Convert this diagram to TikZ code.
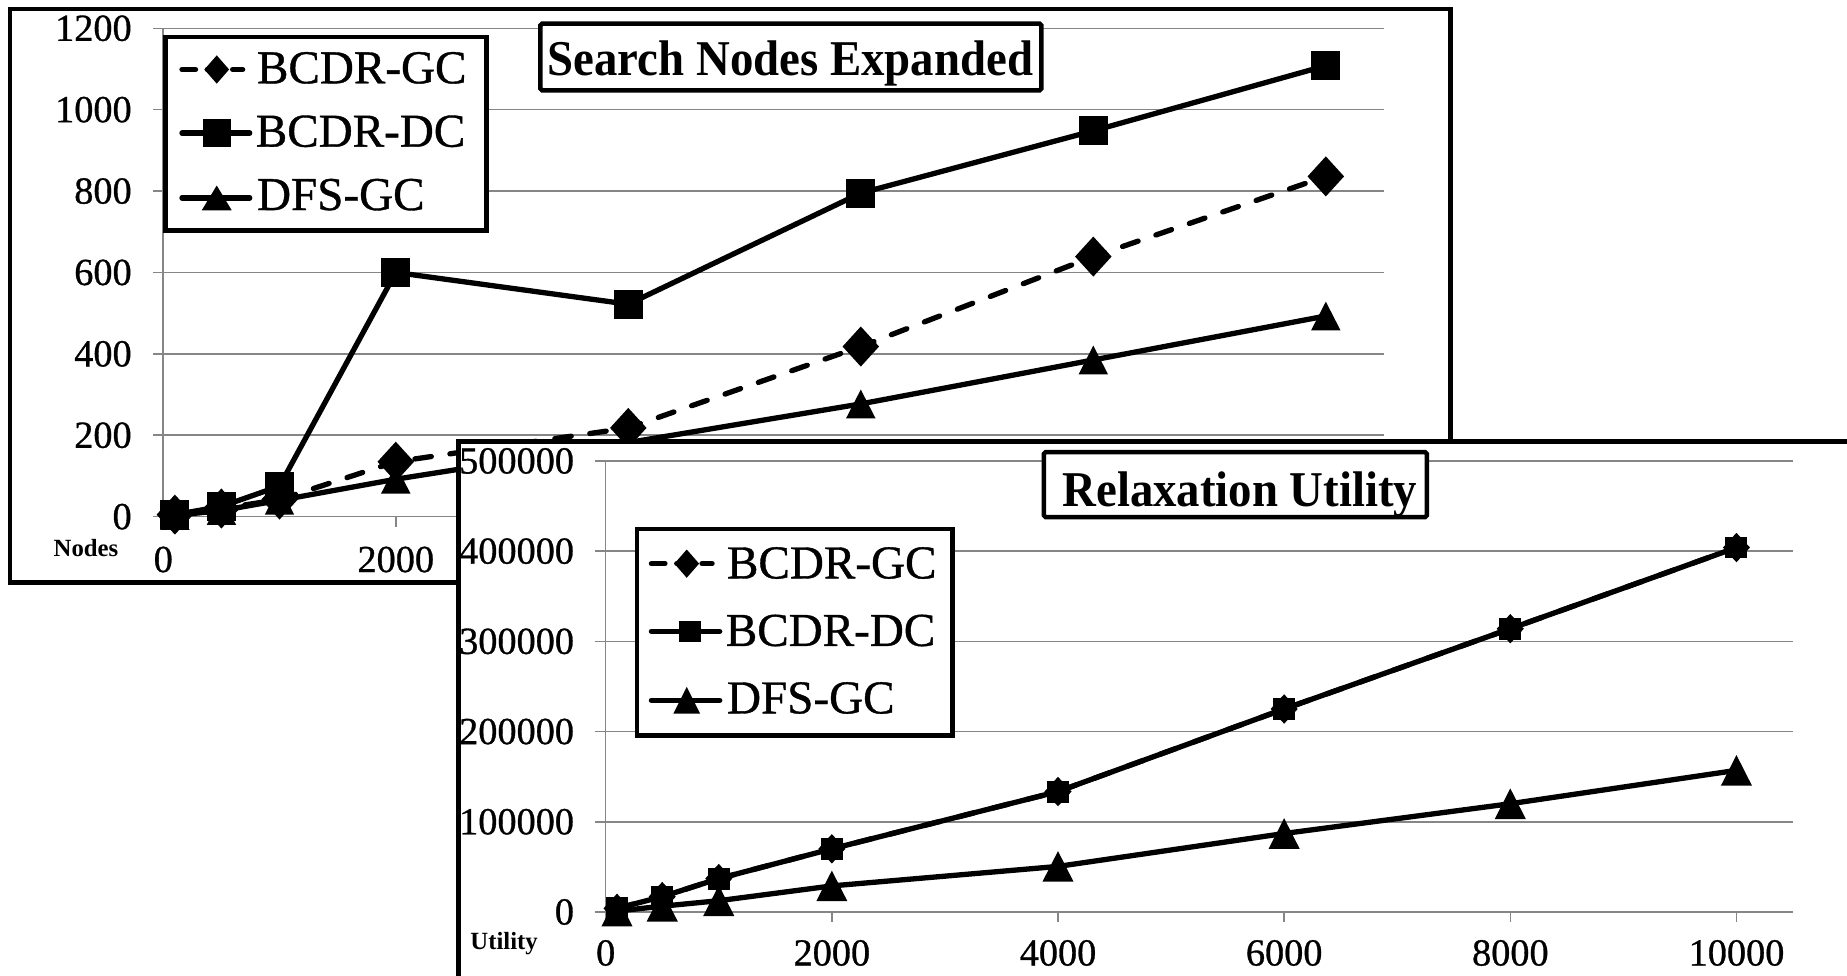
\documentclass[tikz,border=0pt]{standalone}
\usepackage{fontspec}
\setmainfont{Liberation Serif}
\newfontfamily\plainfont[FakeBold=0.8]{Liberation Serif}
\newfontfamily\headfont[FakeStretch=0.935]{Liberation Serif}
\definecolor{gridgrey}{RGB}{134,134,134}
\tikzset{
  panel/.style={draw=black, line width=3.8pt, fill=white},
  keybox/.style={draw=black, line width=3.8pt, fill=white},
  headbox/.style={draw=black, line width=3.8pt, fill=white, rounded corners=1.5pt},
  gridline/.style={draw=gridgrey, line width=1.3pt},
  ticklabel/.style={font=\plainfont\fontsize{32.5}{36}\selectfont, inner sep=0pt},
  axisname/.style={font=\fontsize{21}{24}\selectfont\bfseries, inner sep=0pt},
  keylabel/.style={font=\plainfont\fontsize{40}{44}\selectfont, inner sep=0pt, anchor=base west},
  headlabel/.style={font=\headfont\fontsize{42.5}{46}\selectfont\bfseries, inner sep=0pt, anchor=base},
  solidseries/.style={line width=4.5pt, line join=round, line cap=round},
  dashseries/.style={solidseries, dash pattern=on 14pt off 16pt},
  keydash/.style={solidseries, dash pattern=on 11.5pt off 10pt},
  pics/sqmark/.style={code={\fill (-#1,-#1) rectangle (#1,#1);}},
  pics/dimark/.style 2 args={code={\fill (0,-#2) -- (#1,0) -- (0,#2) -- (-#1,0) -- cycle;}},
  pics/trimark/.style 2 args={code={\fill (0,-#2) -- (#1,#2) -- (-#1,#2) -- cycle;}},
}
\begin{document}
\begin{tikzpicture}[x=1pt, y=-1pt]
\useasboundingbox (0,0) rectangle (1568,828);
\clip (0,0) rectangle (1568,828);

% ---------------- Chart 1: search nodes expanded ----------------
\draw[panel] (8.7,7.5) rectangle (1231.5,494.5);
\foreach \k/\lab in {0/0,1/200,2/400,3/600,4/800,5/1000,6/1200} {
  \draw[gridline] (130,{438.6-69.1*\k}) -- (1175,{438.6-69.1*\k});
  \node[ticklabel, anchor=east] (ny\k) at (112,{438.6-69.1*\k}) {\lab};
}
\draw[gridline] (138.6,24) -- (138.6,438.6);
\foreach \k in {0,...,5} \draw[gridline] ({138.6+197.4*\k},438.6) -- ({138.6+197.4*\k},447);
\node[ticklabel] (nx0) at (138.6,475) {0};
\node[ticklabel] (nx1) at (336,475) {2000};
\node[axisname] (nname) at (73,465) {Nodes};

\begin{scope}[shift={(138.6,438.6)}, xscale=0.0987, yscale=-0.3455]
  \foreach \n/\x/\y in {1/100/5,2/500/20,3/1000/42,4/2000/135,5/4000/218,6/6000/418,7/8000/639,8/10000/836}
    \coordinate (ng\n) at (\x,\y);
  \foreach \n/\x/\y in {1/100/5,2/500/25,3/1000/75,4/2000/600,5/4000/522,6/6000/795,7/8000/948,8/10000/1108}
    \coordinate (nd\n) at (\x,\y);
  \foreach \n/\x/\y in {1/100/3,2/500/15,3/1000/40,4/2000/92,5/4000/182,6/6000/277,7/8000/385,8/10000/493}
    \coordinate (nf\n) at (\x,\y);
\end{scope}

\draw[dashseries] (ng1) \foreach \i in {2,...,8} { -- (ng\i) };
\foreach \i in {1,...,8} \pic at (ng\i) {dimark={15.5}{17}};
\draw[solidseries] (nd1) \foreach \i in {2,...,8} { -- (nd\i) };
\foreach \i in {1,...,8} \pic at (nd\i) {sqmark=12.3};
\draw[solidseries] (nf1) \foreach \i in {2,...,8} { -- (nf\i) };
\foreach \i in {1,...,8} \pic at (nf\i) {trimark={12.5}{12.2}};

% legend
\draw[keybox] (140.3,31.6) rectangle (413.1,195.5);
\coordinate (k1a) at (154.5,59);  \coordinate (k1b) at (206,59);
\coordinate (k2a) at (154.5,113); \coordinate (k2b) at (212,113);
\coordinate (k3a) at (154.5,168); \coordinate (k3b) at (212,168);
\draw[keydash] (k1a) -- (k1b);
\pic at (184,59) {dimark={10.5}{12}};
\draw[solidseries] (k2a) -- (k2b);
\pic at (184,113) {sqmark=12};
\draw[solidseries] (k3a) -- (k3b);
\pic at (184,168) {trimark={12.7}{10.5}};
\node[keylabel] (kt1) at (218,70.7) {BCDR-GC};
\node[keylabel] (kt2) at (217,124.5) {BCDR-DC};
\node[keylabel] (kt3) at (218,178.3) {DFS-GC};

% title
\draw[headbox] (458.8,20.1) rectangle (884,76.7);
\node[headlabel] (head1) at (671,63.7) {Search Nodes Expanded};

% ---------------- Chart 2: relaxation utility ----------------
\draw[panel] (389.1,375) rectangle (1600,860);
\foreach \k/\lab in {0/0,1/100000,2/200000,3/300000,4/400000,5/500000} {
  \draw[gridline] (505,{774.2-76.58*\k}) -- (1522,{774.2-76.58*\k});
  \node[ticklabel, anchor=east] (uy\k) at (487.5,{774.2-76.58*\k}) {\lab};
}
\draw[gridline] (514.2,391.3) -- (514.2,774.2);
\foreach \k/\lab in {0/0,1/2000,2/4000,3/6000,4/8000,5/10000} {
  \draw[gridline] ({514.2+192*\k},774.2) -- ({514.2+192*\k},782.7);
  \node[ticklabel] (ux\k) at ({514.2+192*\k},809) {\lab};
}
\node[axisname] (uname) at (428,801) {Utility};

\begin{scope}[shift={(514.2,774.2)}, xscale=0.096, yscale=-0.7658]
  \foreach \n/\x/\y in {1/100/4,2/500/17,3/1000/37,4/2000/70,5/4000/133.5,6/6000/225,7/8000/314,8/10000/404}
    \coordinate (ug\n) at (\x,\y);
  \foreach \n/\x/\y in {1/100/4,2/500/17,3/1000/37,4/2000/70,5/4000/133.5,6/6000/225,7/8000/314,8/10000/404}
    \coordinate (ud\n) at (\x,\y);
  \foreach \n/\x/\y in {1/100/1,2/500/6.4,3/1000/12.5,4/2000/28.9,5/4000/50.5,6/6000/87,7/8000/120,8/10000/157}
    \coordinate (uf\n) at (\x,\y);
\end{scope}

\draw[dashseries] (ug1) \foreach \i in {2,...,8} { -- (ug\i) };
\foreach \i in {1,...,8} \pic at (ug\i) {dimark={11.5}{12.5}};
\draw[solidseries] (ud1) \foreach \i in {2,...,8} { -- (ud\i) };
\foreach \i in {1,...,8} \pic at (ud\i) {sqmark=9.3};
\draw[solidseries] (uf1) \foreach \i in {2,...,8} { -- (uf\i) };
\foreach \i in {1,...,8} \pic at (uf\i) {trimark={13.2}{13}};

% legend
\draw[keybox] (540.9,448.9) rectangle (808.7,624.2);
\coordinate (m1a) at (553,478.5); \coordinate (m1b) at (604.5,478.5);
\coordinate (m2a) at (553,536);   \coordinate (m2b) at (611,536);
\coordinate (m3a) at (553,594.5); \coordinate (m3b) at (611,594.5);
\draw[keydash] (m1a) -- (m1b);
\pic at (583,478.5) {dimark={10.5}{12}};
\draw[solidseries] (m2a) -- (m2b);
\pic at (586,536) {sqmark=9.2};
\draw[solidseries] (m3a) -- (m3b);
\pic at (583,594.5) {trimark={11.3}{11.3}};
\node[keylabel] (mt1) at (617,491) {BCDR-GC};
\node[keylabel] (mt2) at (616,548.3) {BCDR-DC};
\node[keylabel] (mt3) at (617,605.6) {DFS-GC};

% title
\draw[headbox] (886.1,383.9) rectangle (1211.4,439);
\node[headlabel] (head2) at (1052.6,430) {Relaxation Utility};
\end{tikzpicture}
\end{document}
